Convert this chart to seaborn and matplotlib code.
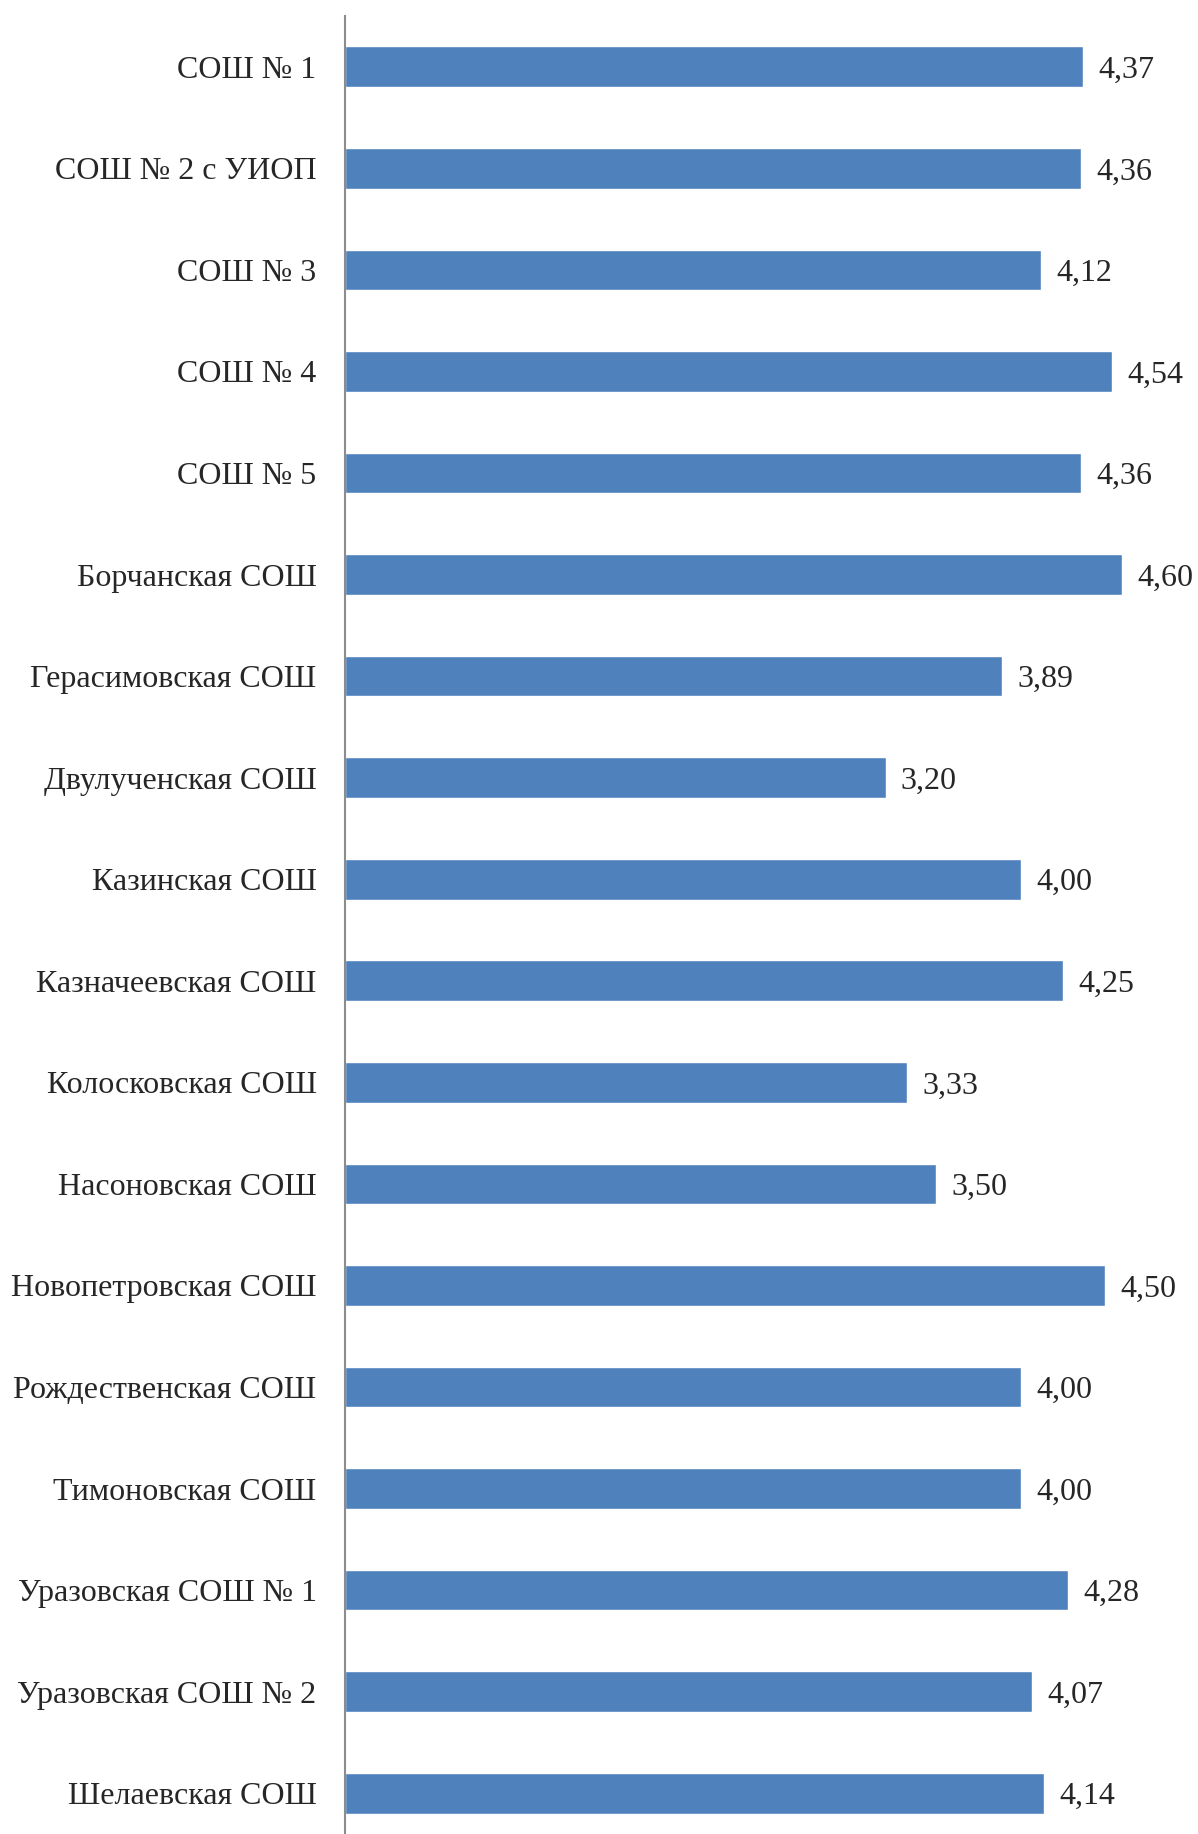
import matplotlib
matplotlib.use("Agg")
import matplotlib.pyplot as plt
import seaborn as sns
import pandas as pd

# данные
schools = [
    "СОШ № 1",
    "СОШ № 2 с УИОП",
    "СОШ № 3",
    "СОШ № 4",
    "СОШ № 5",
    "Борчанская СОШ",
    "Герасимовская СОШ",
    "Двулученская СОШ",
    "Казинская СОШ",
    "Казначеевская СОШ",
    "Колосковская СОШ",
    "Насоновская СОШ",
    "Новопетровская СОШ",
    "Рождественская СОШ",
    "Тимоновская СОШ",
    "Уразовская СОШ № 1",
    "Уразовская СОШ № 2",
    "Шелаевская СОШ",
]
scores = [4.37, 4.36, 4.12, 4.54, 4.36, 4.60, 3.89, 3.20, 4.00,
          4.25, 3.33, 3.50, 4.50, 4.00, 4.00, 4.28, 4.07, 4.14]

df = pd.DataFrame({"school": schools, "score": scores})

sns.set_style("white")
plt.rcParams["font.family"] = ["Liberation Serif", "DejaVu Serif"]

fig = plt.figure(figsize=(11.98, 18.34), dpi=100)
# ось немного уходит за нижний край рисунка
ax = fig.add_axes([345 / 1198, -10 / 1834, 1 - 345 / 1198, (1844 - 16) / 1834])

sns.barplot(data=df, x="score", y="school", color="#4F81BD", saturation=1,
            width=0.4, orient="h", ax=ax)

ax.set_xlim(0, 5.05)
ax.set_ylim(len(schools) - 0.5, -0.5)

labels = [f"{v:.2f}".replace(".", ",") for v in scores]
texts = ax.bar_label(ax.containers[0], labels=labels, padding=11, fontsize=23)
for t in texts:
    t.set_va("center_baseline")

ax.set_xlabel("")
ax.set_ylabel("")
ax.set_xticks([])
ax.tick_params(axis="y", length=0, pad=20.5, labelsize=23)
for side in ["top", "right", "bottom"]:
    ax.spines[side].set_visible(False)
ax.spines["left"].set_color("#8c8c8c")
ax.spines["left"].set_linewidth(1.5)

fig.savefig("out.png", dpi=100)
